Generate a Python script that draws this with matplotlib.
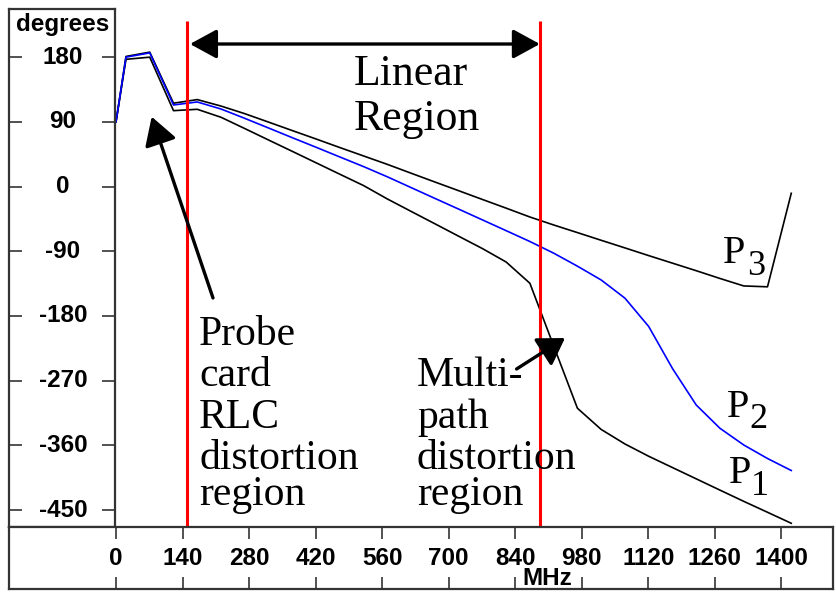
import matplotlib
matplotlib.use("Agg")
import matplotlib.pyplot as plt
import matplotlib.transforms as mtransforms
from matplotlib.patches import ArrowStyle

# phase of the three probe paths
freq = [0, 21, 71, 121, 171, 221, 271, 321, 371, 421, 471, 521, 571, 621, 671,
        721, 771, 821, 871, 921, 971, 1021, 1071, 1121, 1171, 1221, 1271, 1321, 1371, 1421]
p1 = [90, 177, 180, 105.6, 107.5, 96.4, 80.7, 64.8, 49, 33.1, 17.2, 1.4, -17.2, -34.5, -51.7,
      -69, -86.2, -104.9, -134.5, -221.6, -308.3, -337.8, -358, -375.1, -390.8, -406.5, -422.2,
      -437.8, -453, -468.3]
p2 = [90, 180, 186, 113.5, 117.7, 107.9, 94.9, 81.5, 68.0, 54.7, 41.2, 27.8, 13.6, -1.4, -16.4,
      -31.3, -46.3, -61.3, -76.4, -92.6, -110.7, -129.9, -155.2, -194.6, -253, -303.8, -336.2,
      -359.4, -378.2, -394.9]
p3 = [90, 181, 187, 116, 121, 112, 101.4, 89.7, 77.9, 66.2, 54.3, 42.6, 30.9, 18.6, 6.4,
      -5.7, -17.9, -30.0, -42.3, -53.4, -64, -74.7, -85.3, -96, -106.5, -117, -127.8,
      -138.2, -139.4, -9.3]

x_ticks = [0, 140, 280, 420, 560, 700, 840, 980, 1120, 1260, 1400]
y_ticks = [180, 90, 0, -90, -180, -270, -360, -450]
region_edges = [150, 892]

XLIM = (-2.1, 1508.2)
YLIM = (-473.9, 247.0)
W, H = 836, 600

sans = "Liberation Sans"
serif = "Liberation Serif"
box_col = "#333333"
lab_size = 17.5

fig = plt.figure(figsize=(W / 100, H / 100), dpi=100)


def px_axes(x0, y0, x1, y1):
    return fig.add_axes([x0 / W, 1 - y1 / H, (x1 - x0) / W, (y1 - y0) / H])


# main plotting area
ax = px_axes(115, 9, 832.7, 527.3)
ax.set_xlim(*XLIM)
ax.set_ylim(*YLIM)
for s in ax.spines.values():
    s.set_visible(False)
ax.set_xticks([])
ax.set_yticks([])
ax.patch.set_alpha(0)

ax.plot(freq, p1, color="black", lw=1.2)
ax.plot(freq, p3, color="black", lw=1.2)
ax.plot(freq, p2, color="#0000ff", lw=1.2)
ax.vlines(region_edges, YLIM[0], 230, colors="#ff0000", lw=2.2)

# Linear region double arrow
ax.annotate("", xy=(892, 198.3), xytext=(155.7, 198.3),
            arrowprops=dict(arrowstyle=ArrowStyle("<|-|>", head_length=16.5, head_width=9),
                            mutation_scale=1, color="black", lw=2.4,
                            shrinkA=0, shrinkB=0))
ax.text(500.8, 141.3, "Linear", family=serif, fontsize=31.5, va="baseline", ha="left")
ax.text(500.8, 78.7, "Region", family=serif, fontsize=31.5, va="baseline", ha="left")

# probe card annotation
ax.annotate("", xy=(75.1, 97.2), xytext=(204.1, -154.9),
            arrowprops=dict(arrowstyle=ArrowStyle("-|>", head_length=17, head_width=10),
                            mutation_scale=1, color="black", lw=2.4,
                            shrinkA=0, shrinkB=0))
left_lines = ["Probe", "card", "RLC", "distortion", "region"]
left_base = [-220.3, -277.3, -335.7, -392.8, -442.8]
for txt, yb in zip(left_lines, left_base):
    ax.text(174.7, yb, txt, family=serif, fontsize=30, va="baseline", ha="left")

# multipath annotation
ax.annotate("", xy=(944.9, -210.6), xytext=(843, -253.7),
            arrowprops=dict(arrowstyle=ArrowStyle("-|>", head_length=16, head_width=10),
                            mutation_scale=1, color="black", lw=2.4,
                            shrinkA=0, shrinkB=0))
right_lines = ["Multi-", "path", "distortion", "region"]
right_base = [-277.3, -335.7, -392.8, -442.8]
for txt, yb in zip(right_lines, right_base):
    ax.text(633.4, yb, txt, family=serif, fontsize=30, va="baseline", ha="left")

# curve labels P1..P3 (big subscripts, drawn as separate texts)
p_labels = [("3", 1277, -106.3, 1328, -123.0),
            ("2", 1285, -320.0, 1333.5, -336.2),
            ("1", 1290, -412.7, 1335.5, -428.9)]
for sub, px_, py_, sx, sy in p_labels:
    ax.text(px_, py_, "P", family=serif, fontsize=29, va="baseline", ha="left")
    ax.text(sx, sy, sub, family=serif, fontsize=26, va="baseline", ha="left")

# left panel: degrees scale
axl = px_axes(9, 9, 115, 527.3)
axl.set_ylim(*YLIM)
axl.set_xlim(0, 1)
axl.set_xticks([])
axl.set_yticks(y_ticks)
axl.tick_params(axis="y", direction="in", left=True, right=True, length=9.5,
                width=1.2, color=box_col, labelleft=False)
for s in axl.spines.values():
    s.set_color(box_col)
    s.set_linewidth(1.6)
trl = mtransforms.blended_transform_factory(axl.transAxes, axl.transData)
for v in y_ticks:
    axl.text(0.51, v, f"{v}", transform=trl, family=sans, weight="bold",
             fontsize=lab_size, ha="center", va="center")
axl.text(0.51, (527.3 - 25) / 518.3, "degrees", transform=axl.transAxes, family=sans,
         weight="bold", fontsize=lab_size, ha="center", va="center")

# bottom panel: MHz scale
axb = px_axes(9, 527.3, 832.7, 589.3)
axb.set_xlim((9 - 116) / 0.4752, XLIM[1])
axb.set_ylim(0, 1)
axb.set_yticks([])
axb.set_xticks(x_ticks)
axb.tick_params(axis="x", direction="in", top=True, bottom=True, length=8.3,
                width=1.2, color=box_col, labelbottom=False)
for s in axb.spines.values():
    s.set_color(box_col)
    s.set_linewidth(1.6)
trb = mtransforms.blended_transform_factory(axb.transData, axb.transAxes)
for v in x_ticks:
    axb.text(v, 0.5, f"{v}", transform=trb, family=sans, weight="bold",
             fontsize=lab_size, ha="center", va="center")
axb.text(907, 0.18, "MHz", transform=trb, family=sans, weight="bold",
         fontsize=lab_size, ha="center", va="center")

fig.savefig("out.png", dpi=100)
